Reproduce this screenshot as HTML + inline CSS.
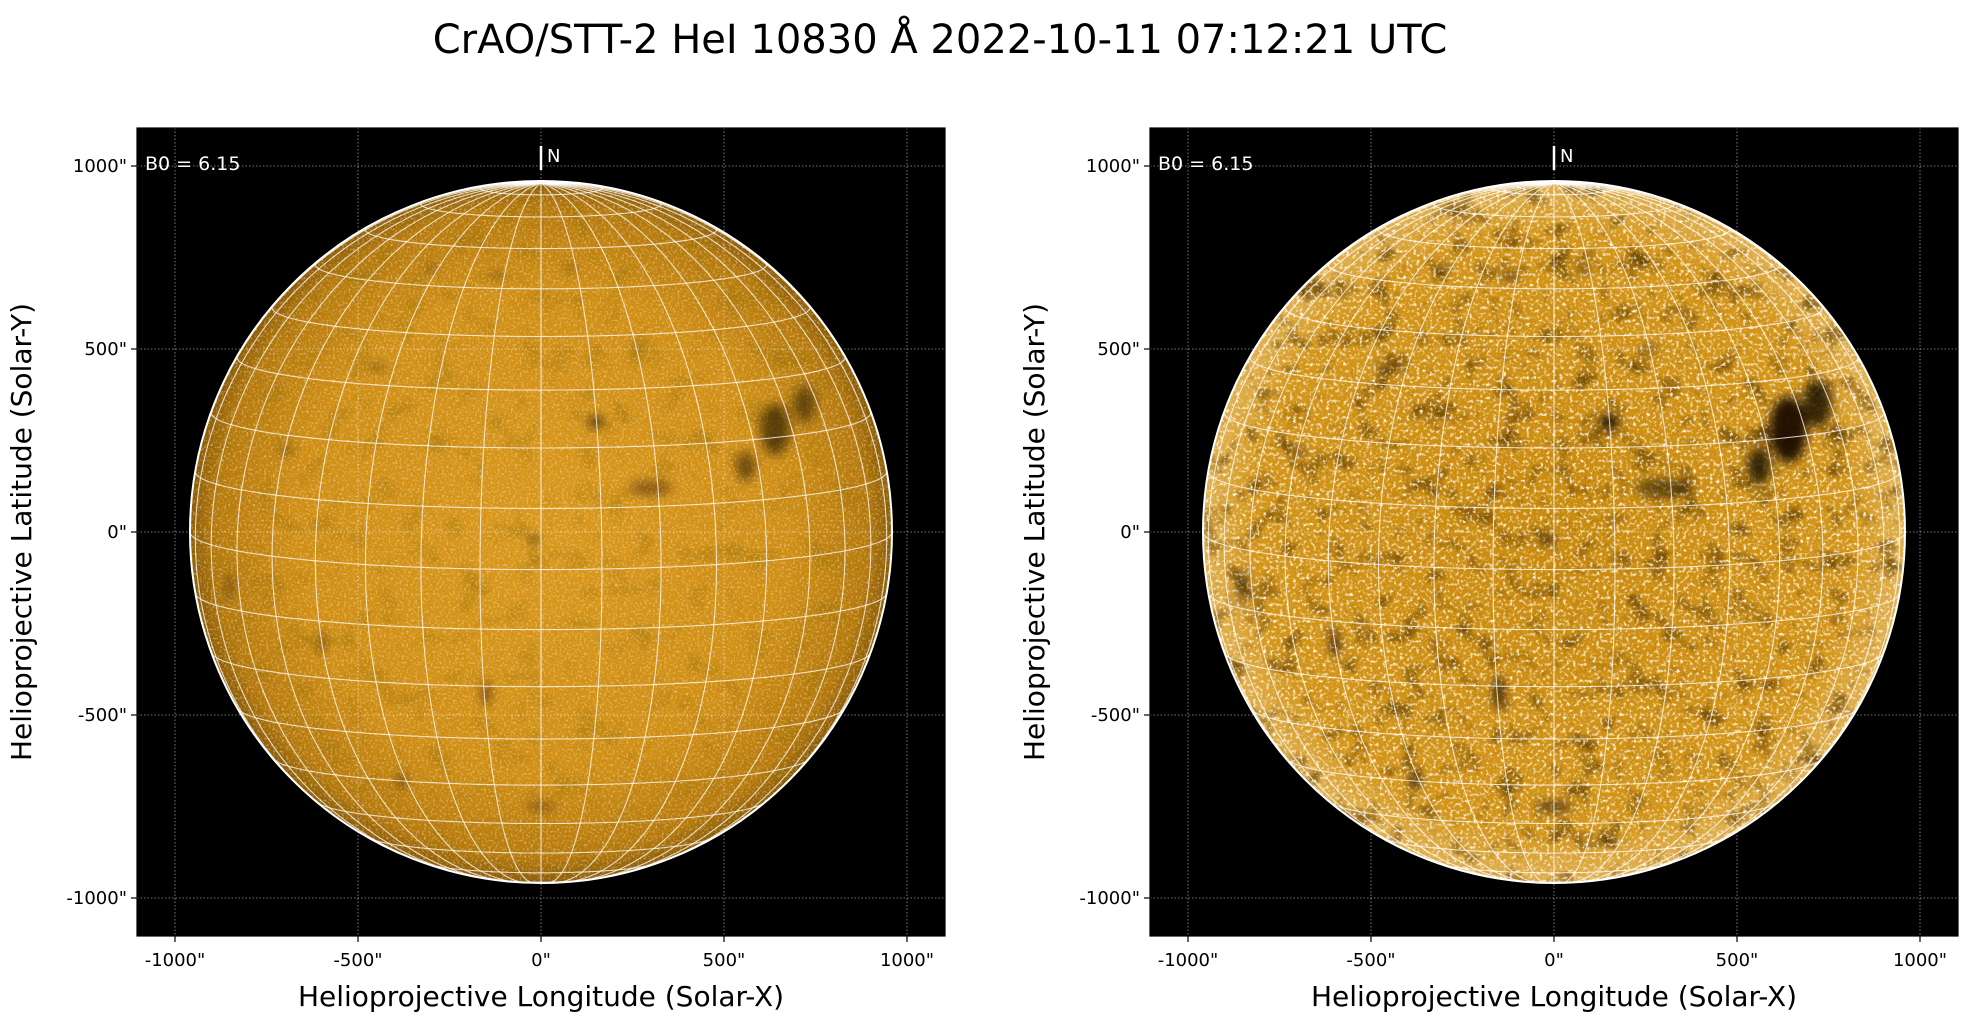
<!DOCTYPE html>
<html><head><meta charset="utf-8"><style>
html,body{margin:0;padding:0;background:#fff;}
svg{display:block;font-family:"DejaVu Sans","Liberation Sans",sans-serif;}
</style></head><body>
<svg id="s" width="1971" height="1026" viewBox="0 0 1971 1026" xmlns="http://www.w3.org/2000/svg">
<defs>
<radialGradient id="lg" cx="50%" cy="50%" r="50%">
<stop offset="0" stop-color="#d9981c"/><stop offset="0.7" stop-color="#cf8e14"/><stop offset="0.93" stop-color="#b5790c"/><stop offset="1" stop-color="#8a5a06"/></radialGradient>
<radialGradient id="rg" cx="50%" cy="50%" r="50%">
<stop offset="0" stop-color="#c98a0c"/><stop offset="0.85" stop-color="#d39518"/><stop offset="1" stop-color="#e0b050"/></radialGradient>
<filter id="fineL" x="0" y="0" width="100%" height="100%">
<feTurbulence type="fractalNoise" baseFrequency="0.45" numOctaves="2" seed="3"/>
<feColorMatrix type="matrix" values="0 0 0 0 1  0 0 0 0 0.9  0 0 0 0 0.7  1.4 0 0 0 -0.7"/></filter>
<filter id="coarseL" x="0" y="0" width="100%" height="100%">
<feTurbulence type="fractalNoise" baseFrequency="0.035" numOctaves="3" seed="7"/>
<feColorMatrix type="matrix" values="0 0 0 0 0.3  0 0 0 0 0.15  0 0 0 0 0  -1.3 0 0 0 0.62"/></filter>
<filter id="fineR" x="0" y="0" width="100%" height="100%">
<feTurbulence type="fractalNoise" baseFrequency="0.3" numOctaves="3" seed="5"/>
<feColorMatrix type="matrix" values="0 0 0 0 1  0 0 0 0 0.97  0 0 0 0 0.88  3.2 0 0 0 -1.65"/></filter>
<filter id="coarseR" x="0" y="0" width="100%" height="100%">
<feTurbulence type="fractalNoise" baseFrequency="0.04" numOctaves="3" seed="7"/>
<feColorMatrix type="matrix" values="0 0 0 0 0.15  0 0 0 0 0.06  0 0 0 0 0  -2.6 0 0 0 1.25"/></filter>
<filter id="blur"><feGaussianBlur stdDeviation="5"/></filter>
<clipPath id="cl"><circle cx="541" cy="532" r="351"/></clipPath>
<clipPath id="cr"><circle cx="1554" cy="532" r="351"/></clipPath>
<clipPath id="al"><rect x="137" y="128" width="808" height="808"/></clipPath>
<clipPath id="ar"><rect x="1150" y="128" width="807" height="808"/></clipPath>
</defs>
<text x="940" y="53" font-size="40" text-anchor="middle" fill="#000">CrAO/STT-2 HeI 10830 Å 2022-10-11 07:12:21 UTC</text>
<g id="root"></g>
</svg>
<script>
const NS="http://www.w3.org/2000/svg";
const root=document.getElementById('root');
function el(t,a,p){const e=document.createElementNS(NS,t);for(const k in a)e.setAttribute(k,a[k]);(p||root).appendChild(e);return e;}
const R=351,B0=6.15*Math.PI/180,sc=183/500;
const spots=[[150,300,22,16,0.9],[-20,-20,14,10,0.9],[640,280,40,70,0.8],[560,180,25,40,0.7],[720,350,30,50,0.7],[-600,-300,8,30,0.7],[-150,-440,10,35,0.8],[-380,-680,10,18,0.9],[0,-750,40,8,0.7],[-880,-550,15,40,0.6],[-850,-150,10,40,0.5],[300,120,60,20,0.5],[-120,700,20,8,0.6],[-300,720,15,8,0.5],[80,720,15,8,0.6],[-450,450,30,8,0.5],[260,500,20,8,0.4],[-700,220,20,10,0.4]];
function panel(x0,cx,cid,aid,right){
  const y0=128,W=808,cy=532;
  el('rect',{x:x0,y:y0,width:W,height:W,fill:'#000'});
  const g=el('g',{'clip-path':'url(#'+cid+')'});
  el('circle',{cx:cx,cy:cy,r:R,fill:right?'url(#rg)':'url(#lg)'},g);
  el('rect',{x:cx-R,y:cy-R,width:2*R,height:2*R,filter:right?'url(#coarseR)':'url(#coarseL)'},g);
  el('rect',{x:cx-R,y:cy-R,width:2*R,height:2*R,filter:right?'url(#fineR)':'url(#fineL)'},g);
  const sg=el('g',{filter:'url(#blur)'},g);
  for(const s of spots){el('ellipse',{cx:cx+s[0]*sc,cy:cy-s[1]*sc,rx:s[2]*sc*(right?1.3:1),ry:s[3]*sc*(right?1.3:1),fill:'#1a0c00','fill-opacity':Math.min(1,s[4]*(right?1.2:0.8))},sg);}
  const ag=el('g',{'clip-path':'url(#'+aid+')'});
  for(let k=-2;k<=2;k++){
    el('line',{x1:cx+k*183,x2:cx+k*183,y1:y0,y2:y0+W,stroke:'#fff','stroke-width':0.8,'stroke-dasharray':'1.5 2','stroke-opacity':0.6},ag);
    el('line',{x1:x0,x2:x0+W,y1:cy+k*183,y2:cy+k*183,stroke:'#fff','stroke-width':0.8,'stroke-dasharray':'1.5 2','stroke-opacity':0.6},ag);
  }
  const gg=el('g',{fill:'none',stroke:'#fff','stroke-width':1.1,'stroke-opacity':0.75});
  function proj(la,lo){la*=Math.PI/180;lo*=Math.PI/180;
    return [cx+R*Math.cos(la)*Math.sin(lo), cy-R*(Math.sin(la)*Math.cos(B0)-Math.cos(la)*Math.cos(lo)*Math.sin(B0)), Math.sin(la)*Math.sin(B0)+Math.cos(la)*Math.cos(lo)*Math.cos(B0)];}
  function line(f){let d='',pen=false;for(let t=0;t<=360;t++){const p=f(t);if(p[2]>0){d+=(pen?'L':'M')+p[0].toFixed(1)+' '+p[1].toFixed(1);pen=true;}else pen=false;}
    if(d)el('path',{d:d},gg);}
  for(let la=-80;la<=80;la+=10)line(t=>proj(la,-180+t));
  for(let lo=-180;lo<180;lo+=10)line(t=>proj(-90+t/2,lo));
  el('circle',{cx:cx,cy:cy,r:R,fill:'none',stroke:'#fff','stroke-width':2});
  el('rect',{x:x0,y:y0,width:W,height:W,fill:'none',stroke:'#000','stroke-width':1.2});
  const lab=["-1000\"","-500\"","0\"","500\"","1000\""];
  for(let k=-2;k<=2;k++){
    const tx=cx+k*183,ty=cy-k*183;
    el('line',{x1:tx,x2:tx,y1:y0+W,y2:y0+W+6,stroke:'#000','stroke-width':1.2});
    el('text',{x:tx,y:y0+W+30,'font-size':18,'text-anchor':'middle',fill:'#000'}).textContent=lab[k+2];
    el('line',{x1:x0-6,x2:x0,y1:ty,y2:ty,stroke:'#000','stroke-width':1.2});
    el('text',{x:x0-10,y:ty+6,'font-size':18,'text-anchor':'end',fill:'#000'}).textContent=lab[k+2];
  }
  el('text',{x:cx,y:1006,'font-size':28,'text-anchor':'middle',fill:'#000'}).textContent='Helioprojective Longitude (Solar-X)';
  const yl=el('text',{x:0,y:0,'font-size':28,'text-anchor':'middle',fill:'#000',transform:'translate('+(x0-106)+','+cy+') rotate(-90)'});yl.textContent='Helioprojective Latitude (Solar-Y)';
  el('text',{x:x0+8,y:170,'font-size':19,fill:'#fff'}).textContent='B0 = 6.15';
  el('line',{x1:cx,x2:cx,y1:146,y2:170,stroke:'#fff','stroke-width':2.5});
  el('text',{x:cx+6,y:162,'font-size':18,fill:'#fff'}).textContent='N';
}
panel(137,541,'cl','al',false);
panel(1150,1554,'cr','ar',true);
</script>
</body></html>
